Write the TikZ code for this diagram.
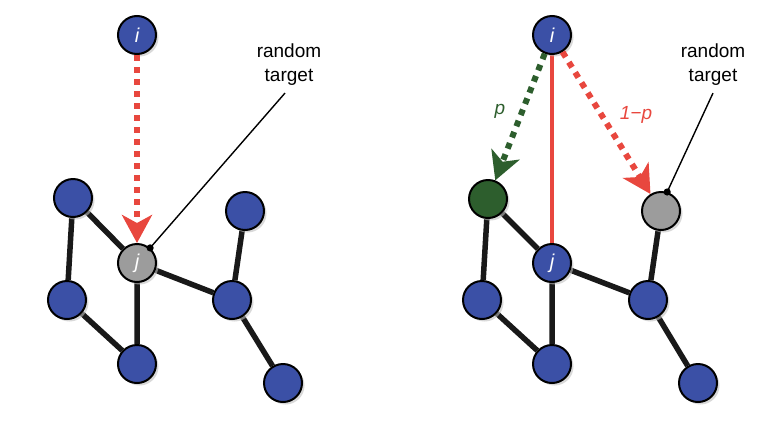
\documentclass[tikz,border=0pt]{standalone}
\usepackage{fontspec}
\setmainfont{Liberation Sans}
\usepackage{tikz}
\usetikzlibrary{arrows.meta,shadows,backgrounds,calc}

\definecolor{nodeblue}{HTML}{3B50A6}
\definecolor{nodegreen}{HTML}{2D5E2D}
\definecolor{nodegray}{HTML}{9C9C9C}
\definecolor{linkred}{HTML}{E8473E}

\tikzset{
  vert/.style={circle, draw=black, line width=2pt, minimum size=38pt, inner sep=0pt,
    fill=nodeblue, text=white, font=\fontsize{20}{22}\selectfont\itshape,
    drop shadow={shadow xshift=2.5pt, shadow yshift=-2.5pt, fill=black!25, opacity=0.6}},
  link/.style={line width=5.5pt, black!90},
  walk/.style={line width=6pt, dash pattern=on 6pt off 6pt,
    -{Stealth[length=28pt, width=30pt, inset=8pt]}},
  pointer/.style={line width=1.4pt, black},
  note/.style={font=\fontsize{19}{24}\selectfont, align=center, inner sep=1pt}
}

\begin{document}
\begin{tikzpicture}[x=1pt,y=-1pt]
        \useasboundingbox (0,0) rectangle (770,426);

        % left: i links to a random target j
        \node[vert] (li) at (137,35) {i};
        \node[vert] (la) at (73,198) {};
        \node[vert, fill=nodegray] (lj) at (137,263) {j};
        \node[vert] (lb) at (245,211) {};
        \node[vert] (lc) at (67,300) {};
        \node[vert] (ld) at (232,300) {};
        \node[vert] (le) at (137,364) {};
        \node[vert] (lf) at (283,383) {};
        \begin{pgfonlayer}{background}
          \draw[link] (la) -- (lc) -- (le) -- (lj) -- (la);
          \draw[link] (lj) -- (ld) -- (lb);
          \draw[link] (ld) -- (lf);
        \end{pgfonlayer}
        \draw[walk, linkred] (li) -- (lj);

        % random target
        \node[note] (lnote) at (289,65) {random\\target};
        \draw[pointer] ($(lnote.south)+(-4,6)$) -- (lj.49);
        \fill (lj.49) circle (3.6pt);

        % right: i follows j, then p / 1-p
        \node[vert] (ri) at (552,35) {i};
        \node[vert, fill=nodegreen] (ra) at (488,199) {};
        \node[vert] (rj) at (552,263) {j};
        \node[vert, fill=nodegray] (rb) at (661,211) {};
        \node[vert] (rc) at (482,300) {};
        \node[vert] (rd) at (648,300) {};
        \node[vert] (re) at (552,364) {};
        \node[vert] (rf) at (698,383) {};
        \begin{pgfonlayer}{background}
          \draw[link] (ra) -- (rc) -- (re) -- (rj) -- (ra);
          \draw[link] (rj) -- (rd) -- (rb);
          \draw[link] (rd) -- (rf);
          \draw[line width=4.5pt, linkred] (ri) -- (rj);
        \end{pgfonlayer}
        \draw[walk, nodegreen] (ri) -- (ra);
        \draw[walk, linkred] (ri) -- (rb);
        \node[note, text=nodegreen, font=\fontsize{19}{21}\selectfont\itshape] (pl) at (500,111) {p};
        \node[note, text=linkred, font=\fontsize{19}{21}\selectfont\itshape] (ql) at (636,115) {1−p};

        % random target
        \node[note] (rnote) at (713,65) {random\\target};
        \draw[pointer] ($(rnote.south)+(0,6)$) -- (rb.72);
        \fill (rb.72) circle (3.6pt);

      \end{tikzpicture}
\end{document}
